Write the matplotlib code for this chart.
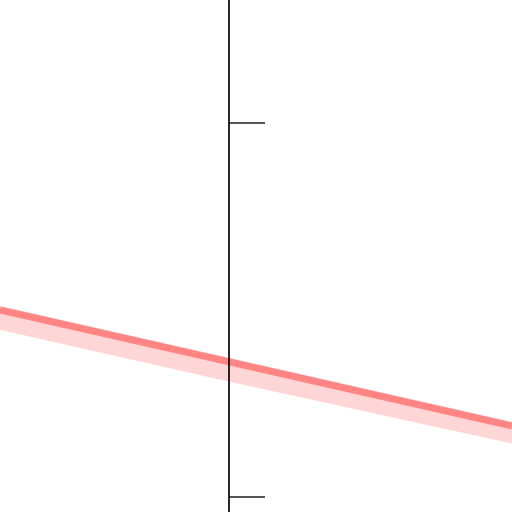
#%% import packages
import numpy as np
import matplotlib
matplotlib.use('Agg')
import matplotlib.pyplot as plt

#%% data
x_ = [-2.29, 0.0, 2.83]
y_line_ = [0.500, 0.3615, 0.190]
y_upper_ = [0.511, 0.3725, 0.201]
y_lower_ = [0.447, 0.3085, 0.143]
y_ticks_ = [0, 1]

#%% plot
fig = plt.figure(figsize=(5.12, 5.12), dpi=100)
ax = fig.add_axes([0, 0, 1, 1])

ax.fill_between(x_, y_lower_, y_upper_, color='#ffd6d6', lw=0)
ax.plot(x_, y_line_, color='#ff8585', lw=5, solid_capstyle='butt')

ax.set_xlim(-2.29, 2.83)
ax.set_ylim(-15 / 374, 497 / 374)

for s_ in ['top', 'right', 'bottom']:
    ax.spines[s_].set_visible(False)
ax.spines['left'].set_position(('data', 0))
ax.spines['left'].set_linewidth(1.2)
ax.spines['left'].set_zorder(5)

ax.set_xticks([])
ax.set_yticks(y_ticks_)
ax.set_yticklabels([])
ax.tick_params(axis='y', direction='in', length=26, width=1.3, color='#444444')

fig.savefig('out.png', dpi=100)
